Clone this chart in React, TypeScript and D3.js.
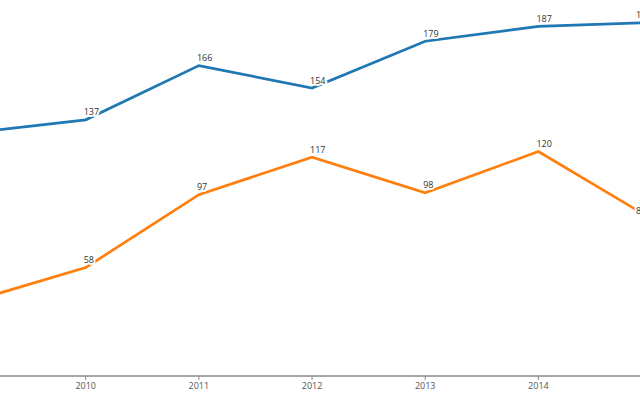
import React from "react";
import * as d3 from "d3";

const years = [2009, 2010, 2011, 2012, 2013, 2014, 2015];
const seriesA = [130, 137, 166, 154, 179, 187, 189];
const seriesB = [40, 58, 97, 117, 98, 120, 84];
const tickYears = [2010, 2011, 2012, 2013, 2014];
const colors = ["#1f77b4", "#ff7f0e"];

const W = 640;
const H = 400;

export default function App() {
  const x = d3.scaleLinear().domain([2010, 2014]).range([85.7, 538.4]);
  const y = d3.scaleLinear().domain([0, 200]).range([376, 2]);
  const line = d3
    .line<number>()
    .x((_, i) => x(years[i]))
    .y((d) => y(d));
  const series = [seriesA, seriesB];
  const axisY = 376;
  return (
    <svg
      width={W}
      height={H}
      style={{ position: "absolute", left: 0, top: 0, overflow: "hidden", background: "#fff" }}
      fontFamily="'Open Sans', sans-serif"
    >
      <line x1={0} x2={W} y1={axisY} y2={axisY} stroke="#8a8a8a" strokeWidth={1.5} />
      {tickYears.map((t) => (
        <g key={t} transform={`translate(${x(t)},0)`}>
          <line y1={axisY} y2={axisY + 4} stroke="#8a8a8a" strokeWidth={1} />
          <text y={axisY + 13} textAnchor="middle" fontSize={9} fill="#555">
            {t}
          </text>
        </g>
      ))}
      {series.map((s, si) => (
        <path key={si} d={line(s) || ""} fill="none" stroke={colors[si]} strokeWidth={2.7} strokeLinejoin="miter" />
      ))}
      {series.map((s, si) =>
        s.map((v, i) =>
          x(years[i]) < 0 ? null : (
            <text
              key={`${si}-${i}`}
              x={Math.min(x(years[i]) - 2, 636)}
              y={y(v) - 4.5}
              fontSize={9}
              fill="#333"
              stroke="#fff"
              strokeWidth={4}
              paintOrder="stroke"
              strokeLinejoin="round"
            >
              {v}
            </text>
          )
        )
      )}
    </svg>
  );
}
